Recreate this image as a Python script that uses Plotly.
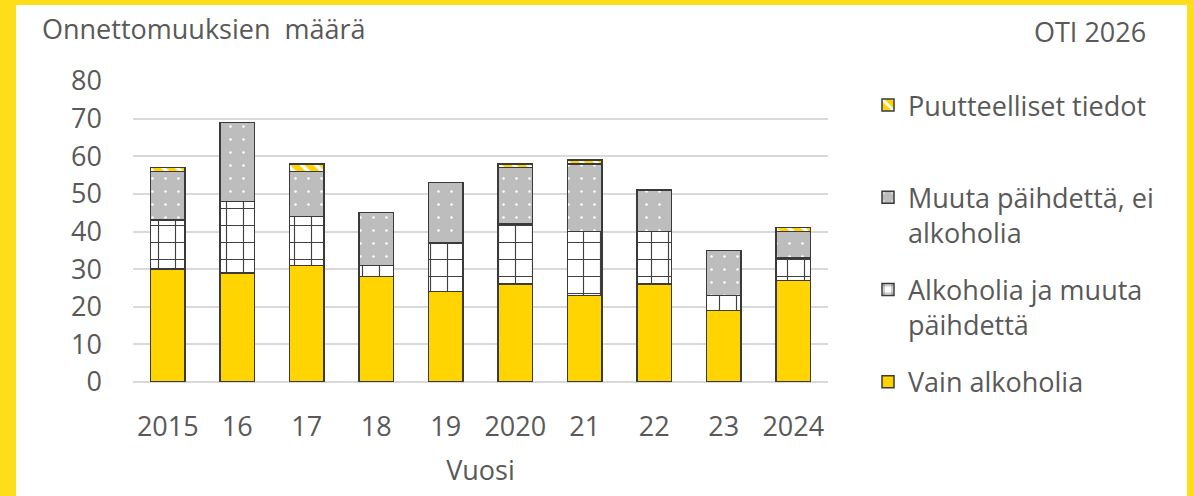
import plotly.graph_objects as go

years = ["2015", "16", "17", "18", "19", "2020", "21", "22", "23", "2024"]
vain_alkoholia = [30, 29, 31, 28, 24, 26, 23, 26, 19, 27]
alkoholia_ja_muuta = [13, 19, 13, 3, 13, 16, 17, 14, 4, 6]
muuta_paihdetta = [13, 21, 12, 14, 16, 15, 18, 11, 12, 7]
puutteelliset = [1, 0, 2, 0, 0, 1, 1, 0, 0, 1]

W, H = 1193, 496
L, R, T, B = 133, 365, 81, 114
PW, PH = W - L - R, H - T - B

def px_x(x):
    return (x - L) / PW

def px_y(y):
    return (H - B - y) / PH

FONT = "Open Sans"
FS = 27
TXT = "#595959"
EDGE = "#3a3a3a"
YEL = "#FFD400"
BORDER = "#FEDD1B"

fig = go.Figure()
fig.add_trace(go.Bar(
    x=years, y=vain_alkoholia, name="Vain alkoholia",
    marker=dict(color=YEL, line=dict(color=EDGE, width=1.5)),
    legendgroup="a", legendrank=4,
))
fig.add_trace(go.Bar(
    x=years, y=alkoholia_ja_muuta, name="Alkoholia ja muuta<br>päihdettä",
    marker=dict(color="white", line=dict(color=EDGE, width=1.5),
                pattern=dict(shape="+", bgcolor="white", fgcolor="#404040",
                             size=17, solidity=0.13, fillmode="replace")),
    legendgroup="b", legendrank=3,
))
fig.add_trace(go.Bar(
    x=years, y=muuta_paihdetta, name="Muuta päihdettä, ei<br>alkoholia",
    marker=dict(color="#BDBDBD", line=dict(color=EDGE, width=1.5),
                pattern=dict(shape=".", bgcolor="#BDBDBD", fgcolor="white",
                             size=13, solidity=0.03, fillmode="replace")),
    legendgroup="c", legendrank=2,
))
fig.add_trace(go.Bar(
    x=years, y=puutteelliset, name="Puutteelliset tiedot<br> ",
    marker=dict(color=YEL, line=dict(color=EDGE, width=1.5),
                pattern=dict(shape="\\", bgcolor=YEL, fgcolor="white",
                             size=10, solidity=0.35, fillmode="replace")),
    legendgroup="d", legendrank=1,
))

shapes = [
    dict(type="rect", xref="paper", yref="paper", x0=px_x(-5), x1=px_x(16),
         y0=px_y(H + 5), y1=px_y(-5), fillcolor=BORDER, line_width=0, layer="below"),
    dict(type="rect", xref="paper", yref="paper", x0=px_x(-5), x1=px_x(W + 5),
         y0=px_y(5), y1=px_y(-5), fillcolor=BORDER, line_width=0, layer="below"),
    dict(type="rect", xref="paper", yref="paper", x0=px_x(1187), x1=px_x(W + 5),
         y0=px_y(H + 5), y1=px_y(-5), fillcolor=BORDER, line_width=0, layer="below"),
]

annotations = [
    dict(text="Onnettomuuksien  määrä", xref="paper", yref="paper",
         x=px_x(40), y=px_y(28), xanchor="left", yanchor="middle",
         showarrow=False, font=dict(family=FONT, size=FS, color=TXT)),
    dict(text="OTI 2026", xref="paper", yref="paper",
         x=px_x(1148), y=px_y(31), xanchor="right", yanchor="middle",
         showarrow=False, font=dict(family=FONT, size=FS, color=TXT)),
]

fig.update_layout(
    width=W, height=H,
    margin=dict(l=L, r=R, t=T, b=B),
    paper_bgcolor="white", plot_bgcolor="white",
    barmode="stack", bargap=0.5,
    font=dict(family=FONT, size=FS, color=TXT),
    shapes=shapes, annotations=annotations,
    legend=dict(x=px_x(868), y=px_y(81), xanchor="left", yanchor="top",
                traceorder="grouped", valign="top", tracegroupgap=19,
                maxheight=480,
                font=dict(family=FONT, size=FS, color=TXT),
                bgcolor="rgba(0,0,0,0)"),
    xaxis=dict(showgrid=False, showline=False, ticks="", ticklabelstandoff=26,
               title=dict(text="Vuosi", standoff=18,
                          font=dict(family=FONT, size=FS, color=TXT)),
               tickfont=dict(family=FONT, size=FS, color=TXT)),
    yaxis=dict(range=[0, 80], dtick=10, showgrid=True, gridcolor="#D9D9D9",
               gridwidth=1.5, zeroline=True, zerolinecolor="#D9D9D9",
               zerolinewidth=1.5, ticks="", ticklabelstandoff=30,
               tickfont=dict(family=FONT, size=FS, color=TXT)),
)

fig.write_html("out.html", config={"displayModeBar": False},
               post_script="document.body.style.margin='0';")
